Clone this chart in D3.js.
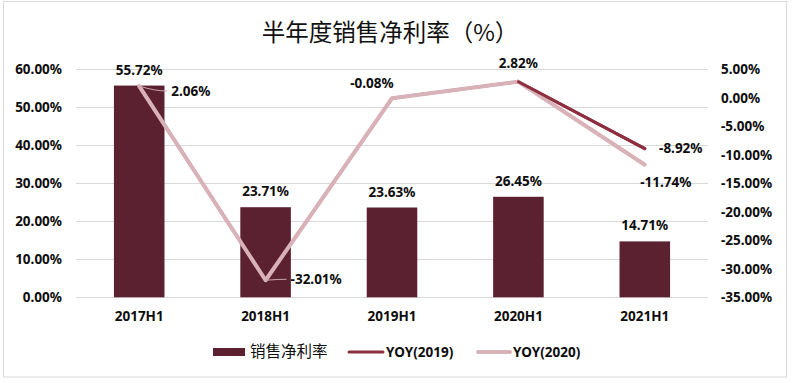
<!DOCTYPE html>
<html><head><meta charset="utf-8">
<script src="https://cdn.jsdelivr.net/npm/d3@7"></script>
<style>
html,body{margin:0;padding:0;background:#fff;}
svg{display:block;font-family:"Noto Sans","Noto Sans CJK SC",sans-serif;}
</style></head>
<body>
<script>
const categories = ["2017H1","2018H1","2019H1","2020H1","2021H1"];
const netMargin = [55.72, 23.71, 23.63, 26.45, 14.71];
const yoy2019 = [2.06, -32.01, -0.08, 2.82, -8.92];
const yoy2020 = [2.06, -32.01, -0.08, 2.82, -11.74];
const leftTicks = [0, 10, 20, 30, 40, 50, 60];
const rightTicks = [5, 0, -5, -10, -15, -20, -25, -30, -35];
const seriesNames = ["销售净利率", "YOY(2019)", "YOY(2020)"];
const titleText = "半年度销售净利率（%）";

const W = 792, H = 383;
const m = {left: 76, right: 708, top: 69.3, bottom: 297.3};
const C = {bar: "#5c2131", dark: "#8e2f40", light: "#d8b2b8", grid: "#d9d9d9", text: "#0d0d0d"};
const FS = 13.5;

const svg = d3.select("body").append("svg").attr("width", W).attr("height", H);
svg.append("rect").attr("x", 3.5).attr("y", 1.5).attr("width", 783).attr("height", 375.5)
  .attr("fill", "#fff").attr("stroke", "#d9d9d9").attr("stroke-width", 1);

svg.append("text").attr("x", 390).attr("y", 41).attr("text-anchor", "middle")
  .attr("font-family", "'Noto Sans CJK SC',sans-serif").attr("font-size", 23.5).attr("fill", "#111")
  .text(titleText);

const x = d3.scaleBand().domain(categories).range([m.left, m.right]).paddingInner(0.6).paddingOuter(0.3);
const yL = d3.scaleLinear().domain([0, 60]).range([m.bottom, m.top]);
const yR = d3.scaleLinear().domain([-35, 5]).range([m.bottom, m.top]);
const fmt = v => v.toFixed(2) + "%";

// gridlines
svg.append("g").selectAll("line").data(leftTicks).join("line")
  .attr("x1", m.left).attr("x2", m.right)
  .attr("y1", d => Math.round(yL(d)) + 0.5).attr("y2", d => Math.round(yL(d)) + 0.5)
  .attr("stroke", C.grid).attr("stroke-width", 1);

function styleAxis(g) {
  g.select(".domain").remove();
  g.selectAll("text").attr("font-size", FS).attr("font-weight", "bold").attr("fill", C.text)
    .attr("font-family", "'Noto Sans',sans-serif");
}
// left axis
svg.append("g").attr("transform", `translate(${m.left},0)`)
  .call(d3.axisLeft(yL).tickValues(leftTicks).tickSize(0).tickPadding(14).tickFormat(fmt)).call(styleAxis);
// right axis
svg.append("g").attr("transform", `translate(${m.right},0)`)
  .call(d3.axisRight(yR).tickValues(rightTicks).tickSize(0).tickPadding(13).tickFormat(fmt)).call(styleAxis);
// x axis
svg.append("g").attr("transform", `translate(0,${m.bottom})`)
  .call(d3.axisBottom(x).tickSize(0).tickPadding(14)).call(styleAxis);

// bars
svg.append("g").selectAll("rect").data(netMargin).join("rect")
  .attr("x", (d, i) => x(categories[i])).attr("width", x.bandwidth())
  .attr("y", d => yL(d)).attr("height", d => yL(0) - yL(d)).attr("fill", C.bar);
svg.append("g").selectAll("text").data(netMargin).join("text")
  .attr("x", (d, i) => x(categories[i]) + x.bandwidth() / 2).attr("y", d => yL(d) - 11)
  .attr("text-anchor", "middle").attr("font-size", FS).attr("font-weight", "bold").attr("fill", C.text)
  .text(d => fmt(d));

// lines
const cx = i => x(categories[i]) + x.bandwidth() / 2;
const lineFrom = k => d3.line().x((d, i) => cx(i + k)).y(d => yR(d));
function drawLine(data, k, color, w) {
  svg.append("path").datum(data).attr("d", lineFrom(k)).attr("fill", "none")
    .attr("stroke", color).attr("stroke-width", w).attr("stroke-linejoin", "round").attr("stroke-linecap", "round");
}
drawLine(yoy2019, 0, C.dark, 3);
drawLine(yoy2020.slice(0, 4), 0, C.light, 4);
drawLine(yoy2020.slice(3), 3, C.light, 4);
drawLine(yoy2019.slice(3), 3, C.dark, 3);

// line labels: [series, index, dx, dy, anchor, leader]
const lineLabels = [
  [yoy2020, 0, 32, 5, "start", true],
  [yoy2020, 1, 25, -1, "start", true],
  [yoy2020, 2, -20, -15, "middle", false],
  [yoy2020, 3, 0, -18, "middle", false],
  [yoy2019, 4, 36, 0, "middle", false],
  [yoy2020, 4, 21, 18, "middle", false]
];
const lbl = svg.append("g");
lineLabels.forEach(([s, i, dx, dy, anchor, leader]) => {
  const px = cx(i), py = yR(s[i]);
  if (leader) {
    lbl.append("path")
      .attr("d", `M${px},${py} Q${px + dx * 0.5},${py + dy} ${px + dx - 4},${py + dy}`)
      .attr("fill", "none").attr("stroke", "#c9a6ab").attr("stroke-width", 1);
  }
  lbl.append("text").attr("x", px + dx).attr("y", py + dy).attr("dy", "0.35em")
    .attr("text-anchor", anchor).attr("font-size", FS).attr("font-weight", "bold").attr("fill", C.text)
    .text(fmt(s[i]));
});

// legend
const lg = svg.append("g").attr("transform", "translate(0,352)");
lg.append("rect").attr("x", 213).attr("y", -4).attr("width", 32).attr("height", 8).attr("fill", C.bar);
lg.append("text").attr("x", 250).attr("y", 0).attr("dy", "0.35em").attr("font-size", 15.5)
  .attr("font-family", "'Noto Sans CJK SC',sans-serif").attr("fill", C.text).text(seriesNames[0]);
lg.append("line").attr("x1", 349).attr("x2", 383).attr("y1", 0).attr("y2", 0)
  .attr("stroke", C.dark).attr("stroke-width", 3).attr("stroke-linecap", "round");
lg.append("text").attr("x", 386).attr("y", 0).attr("dy", "0.35em").attr("font-size", FS).attr("font-weight", "bold")
  .attr("fill", C.text).text(seriesNames[1]);
lg.append("line").attr("x1", 478).attr("x2", 510).attr("y1", 0).attr("y2", 0)
  .attr("stroke", C.light).attr("stroke-width", 4).attr("stroke-linecap", "round");
lg.append("text").attr("x", 513).attr("y", 0).attr("dy", "0.35em").attr("font-size", FS).attr("font-weight", "bold")
  .attr("fill", C.text).text(seriesNames[2]);
</script>
</body></html>
